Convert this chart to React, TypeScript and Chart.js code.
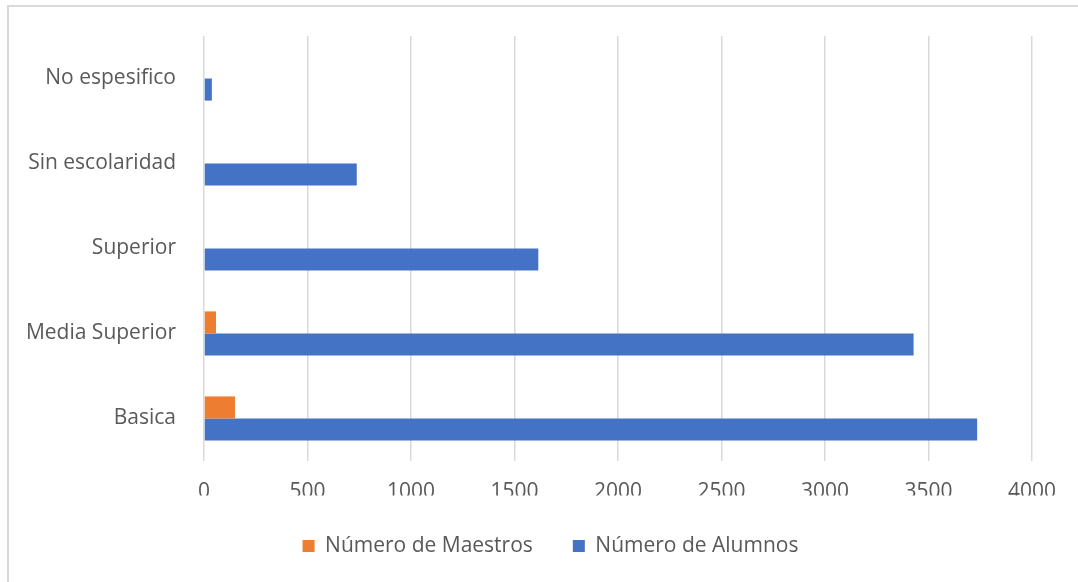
import React, { useEffect, useRef } from "react";
import { Chart, registerables } from "chart.js";

Chart.register(...registerables);

const categories = ["No espesifico", "Sin escolaridad", "Superior", "Media Superior", "Basica"];
const maestros = [0, 0, 0, 58, 150];
const alumnos = [38, 738, 1615, 3428, 3735];
const seriesNames = ["Número de Maestros", "Número de Alumnos"];
const xTicks = [0, 500, 1000, 1500, 2000, 2500, 3000, 3500, 4000];

const FONT = "'Open Sans', 'Noto Sans', sans-serif";
const TEXT = "#595959";
const GRID = "#d9d9d9";

const legendShift = {
  id: "legendShift",
  afterLayout(chart: any) {
    if (chart.legend) {
      chart.legend.left = 69;
      chart.legend.right = 1032;
      chart.legend.width = 1032 - 69;
    }
  },
};

export default function App() {
  const ref = useRef<HTMLCanvasElement | null>(null);

  useEffect(() => {
    if (!ref.current) return;
    const chart = new Chart(ref.current, {
      type: "bar",
      data: {
        labels: categories,
        datasets: [
          {
            label: seriesNames[0],
            data: maestros,
            backgroundColor: "#ED7D31",
            borderWidth: 0,
            categoryPercentage: 0.52,
            barPercentage: 1,
          },
          {
            label: seriesNames[1],
            data: alumnos,
            backgroundColor: "#4472C4",
            borderWidth: 0,
            categoryPercentage: 0.52,
            barPercentage: 1,
          },
        ],
      },
      options: {
        indexAxis: "y",
        animation: false,
        responsive: true,
        maintainAspectRatio: false,
        layout: { padding: { top: 36, right: 46, bottom: 15.5, left: 0 } },
        plugins: {
          tooltip: { enabled: false },
          legend: {
            position: "bottom",
            labels: {
              boxWidth: 12,
              boxHeight: 12,
              padding: 40,
              color: TEXT,
              font: { family: FONT, size: 21 },
            },
          },
        },
        scales: {
          x: {
            min: 0,
            max: 4000,
            afterBuildTicks: (scale: any) => {
              scale.ticks = xTicks.map((v) => ({ value: v }));
            },
            afterFit: (scale: any) => {
              scale.height = 34.5;
            },
            grid: { color: GRID, lineWidth: 1.5, drawTicks: false },
            border: { display: false },
            ticks: {
              padding: 18,
              color: TEXT,
              font: { family: FONT, size: 21 },
              maxRotation: 0,
              callback: (v: any) => String(v),
            },
          },
          y: {
            afterFit: (scale: any) => {
              scale.width = 204;
              scale.paddingTop = 0;
              scale.paddingBottom = 0;
            },
            grid: { display: false, drawTicks: false },
            border: { display: false },
            ticks: {
              padding: 28,
              color: TEXT,
              font: { family: FONT, size: 21 },
            },
          },
        },
      },
      plugins: [legendShift],
    });
    return () => chart.destroy();
  }, []);

  return (
    <div
      style={{
        position: "fixed",
        left: 0,
        top: 0,
        width: 1078,
        height: 582,
        overflow: "hidden",
        background: "#fff",
      }}
    >
      <div
        style={{
          position: "absolute",
          left: 7,
          top: 5,
          width: 1200,
          height: 700,
          borderTop: `2px solid ${GRID}`,
          borderLeft: `2px solid ${GRID}`,
        }}
      />
      <div style={{ position: "absolute", left: 0, top: 0, width: 1078, height: 582 }}>
        <canvas ref={ref} />
      </div>
    </div>
  );
}
